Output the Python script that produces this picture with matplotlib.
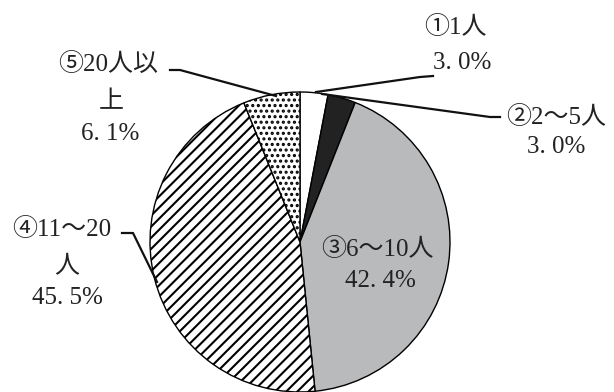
import matplotlib.pyplot as plt

plt.rcParams['font.family'] = ['Liberation Serif', 'Noto Sans CJK JP', 'DejaVu Sans']
plt.rcParams['hatch.linewidth'] = 1.5

categories = ['①1人', '②2～5人', '③6～10人', '④11～20人', '⑤20人以上']
values = [3.0, 3.0, 42.4, 45.5, 6.1]
pct_labels = ['3. 0%', '3. 0%', '42. 4%', '45. 5%', '6. 1%']

colors = ['white', '#222222', '#b9babc', 'white', 'white']
hatches = ['', '', '', '///', '...']

W, H = 614, 392

def Y(y):
    return H - y

fig = plt.figure(figsize=(W / 100, H / 100), dpi=100)
ax = fig.add_axes([0, 0, 1, 1])
ax.set_xlim(0, W)
ax.set_ylim(0, H)
ax.set_aspect('equal')
ax.axis('off')

ax.pie(values, startangle=90, counterclock=False, colors=colors,
       hatch=hatches, center=(300, Y(242)), radius=150,
       wedgeprops=dict(edgecolor='black', linewidth=1.0))
ax.set_xlim(0, W)
ax.set_ylim(0, H)

# label lines: (text, x, y) in pixel coordinates
text_lines = [
    [(categories[0], 455, 27), (pct_labels[0], 462, 63)],
    [(categories[1], 556, 117), (pct_labels[1], 556, 147)],
    [(categories[2], 377, 249), (pct_labels[2], 380, 281)],
    [('④11～20', 62, 229), ('人', 67, 267), (pct_labels[3], 67, 298)],
    [('⑤20人以', 108, 64), ('上', 111, 102), (pct_labels[4], 110, 134)],
]
for block in text_lines:
    for s, x, y in block:
        ax.text(x, Y(y), s, ha='center', va='center', fontsize=18, color='#222222')

leaders = [
    [(316, 92), (420, 77), (433, 76)],
    [(322, 94), (490, 117), (500, 117)],
    [(170, 70), (180, 70), (276, 96)],
    [(122, 233), (133, 233), (157, 282)],
]
for pts in leaders:
    ax.plot([p[0] for p in pts], [Y(p[1]) for p in pts], color='#111111', lw=1.6)

fig.savefig('out.png', dpi=100)
